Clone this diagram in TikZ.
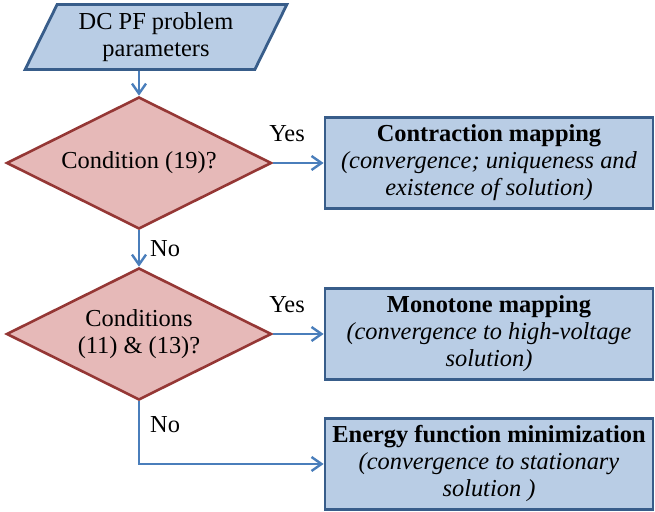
\documentclass[tikz,border=0pt]{standalone}
\usepackage{fontspec}
\setmainfont{Liberation Serif}
\usetikzlibrary{arrows.meta,shapes.geometric,positioning}
\usepackage{xcolor}
\definecolor{boxfill}{HTML}{B9CDE5}
\definecolor{boxline}{HTML}{385D8A}
\definecolor{decfill}{HTML}{E6B9B8}
\definecolor{decline}{HTML}{953735}
\definecolor{flowline}{HTML}{4A7EBB}

\begin{document}
\begin{tikzpicture}[x=0.5pt,y=-0.5pt,
	every node/.style={font=\fontsize{12.2}{13.5}\selectfont},
	inbox/.style={draw=boxline,fill=boxfill,line width=1.4pt,trapezium,trapezium stretches=true,
		trapezium left angle=63,trapezium right angle=117,minimum width=131pt,minimum height=32.5pt,align=center,inner sep=0pt},
	decbox/.style={draw=decline,fill=decfill,line width=1.3pt,diamond,aspect=2,
		minimum width=132.5pt,minimum height=66pt,align=center,inner sep=0pt},
	outbox/.style={draw=boxline,fill=boxfill,line width=1.4pt,rectangle,
		minimum width=164pt,minimum height=45.5pt,align=center,inner sep=0pt},
	flow/.style={draw=flowline,line width=1.2pt,-{Straight Barb[length=5pt,width=7pt]}},
	lbl/.style={inner sep=0pt}]
	\useasboundingbox (0,0) rectangle (655,512);
	\node[inbox] (input) at (156,37) {DC PF problem\\parameters};
	\node[decbox] (cond1) at (139,163) {Condition (19)?};
	\node[decbox] (cond2) at (139,334) {Conditions\\(11) \& (13)?};
	\node[outbox] (out1) at (489,163) {\textbf{Contraction mapping}\\\textit{(convergence; uniqueness and}\\\textit{existence of solution)}};
	\node[outbox] (out2) at (489,334) {\textbf{Monotone mapping}\\\textit{(convergence to high-voltage}\\\textit{solution)}};
	\node[outbox] (out3) at (489,464) {\textbf{Energy function minimization}\\\textit{(convergence to stationary}\\\textit{solution )}};
	\draw[flow] (input.south -| cond1.north) -- (cond1.north);
	\draw[flow] (cond1) -- node[lbl,pos=0.28,above=10pt] {Yes} (out1);
	\draw[flow] (cond1) -- node[lbl,midway,right=5pt] {No} (cond2);
	\draw[flow] (cond2) -- node[lbl,pos=0.28,above=10pt] {Yes} (out2);
	\draw[flow] (cond2) |- node[lbl,pos=0.19,right=5pt] {No} (out3);
\end{tikzpicture}
\end{document}
